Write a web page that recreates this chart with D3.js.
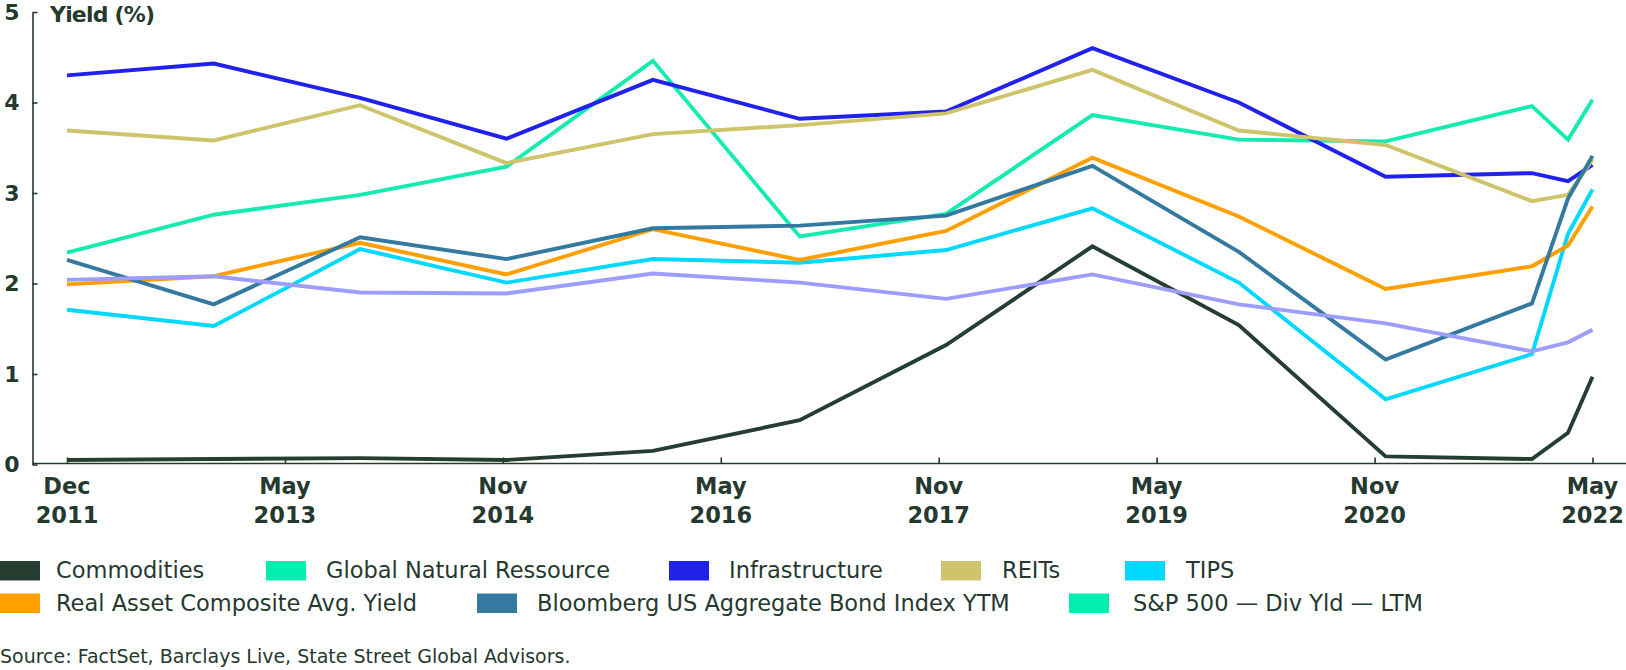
<!DOCTYPE html>
<html>
<head>
<meta charset="utf-8">
<script src="https://cdn.jsdelivr.net/npm/d3@7"></script>
<style>
  html, body { margin: 0; padding: 0; background: #ffffff; }
  svg { display: block; }
</style>
</head>
<body>
<svg id="chart" width="1626" height="670"></svg>
<script>
// ---- data ----
const dates = ["2011-12","2012-12","2013-12","2014-12","2015-12","2016-12","2017-12","2018-12","2019-12","2020-12","2021-12","2022-03","2022-05"];
const commodities = [0.05, 0.06, 0.07, 0.05, 0.15, 0.49, 1.32, 2.41, 1.54, 0.09, 0.06, 0.35, 0.97];
const globalNatRes = [2.34, 2.76, 2.98, 3.29, 4.46, 2.52, 2.77, 3.86, 3.59, 3.57, 3.96, 3.59, 4.03];
const infrastructure = [4.30, 4.43, 4.05, 3.60, 4.25, 3.82, 3.90, 4.60, 4.00, 3.18, 3.22, 3.13, 3.31];
const reits = [3.69, 3.58, 3.97, 3.33, 3.65, 3.75, 3.88, 4.36, 3.69, 3.53, 2.91, 2.98, 3.37];
const tips = [1.71, 1.53, 2.38, 2.01, 2.27, 2.23, 2.37, 2.83, 2.01, 0.72, 1.22, 2.55, 3.04];
const realAsset = [1.99, 2.08, 2.45, 2.10, 2.60, 2.26, 2.58, 3.39, 2.74, 1.94, 2.19, 2.42, 2.85];
const bloomberg = [2.26, 1.77, 2.51, 2.27, 2.61, 2.64, 2.75, 3.30, 2.35, 1.16, 1.78, 2.94, 3.41];
const sp500 = [2.04, 2.08, 1.90, 1.89, 2.11, 2.01, 1.83, 2.10, 1.77, 1.56, 1.25, 1.35, 1.49];

const seriesNames = ["Commodities","Global Natural Ressource","Infrastructure","REITs","TIPS","Real Asset Composite Avg. Yield","Bloomberg US Aggregate Bond Index YTM","S&P 500 \u2014 Div Yld \u2014 LTM"];
const seriesValues = [commodities, globalNatRes, infrastructure, reits, tips, realAsset, bloomberg, sp500];
const lineColors = ["#263d31","#14ebb0","#2121ec","#cdc46b","#00d9ff","#ffa000","#347aa0","#9d9dff"];
const legendColors = ["#263d31","#00efb0","#2121ec","#cdc46b","#00d9ff","#ffa000","#347aa0","#00efb0"];

const yTicks = [0,1,2,3,4,5];
const xTickMonths = ["Dec","May","Nov","May","Nov","May","Nov","May"];
const xTickYears = ["2011","2013","2014","2016","2017","2019","2020","2022"];
const yTitle = "Yield (%)";
const sourceText = "Source: FactSet, Barclays Live, State Street Global Advisors.";

// ---- layout ----
const ink = "#25392f";
const svg = d3.select("#chart");
const parse = d3.utcParse("%Y-%m");
const xDates = dates.map(parse);

const x = d3.scaleUtc().domain([xDates[0], xDates[xDates.length - 1]]).range([67, 1592.5]);
const y = d3.scaleLinear().domain([0, 5]).range([464.5, 12]);

const axisX0 = 32.5;

// y axis
const yAxis = svg.append("g").attr("transform", `translate(${axisX0},0)`)
  .call(d3.axisRight(y).tickValues(yTicks).tickSize(5).tickSizeOuter(0).tickFormat(""));
yAxis.select(".domain").attr("stroke", ink).attr("stroke-width", 1.6);
yAxis.selectAll(".tick line").attr("stroke", ink).attr("stroke-width", 1.6);

svg.append("g").selectAll("text").data(yTicks).join("text")
  .attr("x", 19.5).attr("y", d => y(d)).attr("dy", "0.36em")
  .attr("text-anchor", "end")
  .attr("font-family", "DejaVu Sans").attr("font-weight", "bold").attr("font-size", 22)
  .attr("fill", ink).text(d => d);

svg.append("text").attr("x", 50).attr("y", 21.5)
  .attr("font-family", "DejaVu Sans").attr("font-weight", "bold").attr("font-size", 22)
  .attr("letter-spacing", -0.8)
  .attr("fill", ink).text(yTitle);

// x axis
const t0 = +xDates[0], t1 = +xDates[xDates.length - 1];
const xTickVals = xTickMonths.map((m, i) => new Date(t0 + i * (t1 - t0) / (xTickMonths.length - 1)));
const xAxis = svg.append("g").attr("transform", `translate(0,${y(0) - 1})`)
  .call(d3.axisTop(x).tickValues(xTickVals).tickSize(6).tickSizeOuter(0).tickFormat(""));
xAxis.select(".domain").attr("d", `M${axisX0},0H1626`).attr("stroke", ink).attr("stroke-width", 1.6);
xAxis.selectAll(".tick line").attr("stroke", ink).attr("stroke-width", 1.6);

const xLab = svg.append("g").selectAll("g").data(xTickVals).join("g")
  .attr("transform", d => `translate(${x(d)},0)`);
xLab.append("text").attr("y", 494).attr("text-anchor", "middle")
  .attr("font-family", "DejaVu Sans").attr("font-weight", "bold").attr("font-size", 22.5)
  .attr("fill", ink).text((d, i) => xTickMonths[i]);
xLab.append("text").attr("y", 523).attr("text-anchor", "middle")
  .attr("font-family", "DejaVu Sans").attr("font-weight", "bold").attr("font-size", 22.5)
  .attr("fill", ink).text((d, i) => xTickYears[i]);

// lines
const line = d3.line().x((d, i) => x(xDates[i])).y(d => y(d));
svg.append("g").selectAll("path").data(seriesValues).join("path")
  .attr("d", d => line(d))
  .attr("fill", "none")
  .attr("stroke", (d, i) => lineColors[i])
  .attr("stroke-width", 3.9)
  .attr("stroke-linejoin", "miter");

// legend (two rows)
const legendItems = [
  {idx: 0, row: 0, sx: 0,    tx: 56},
  {idx: 1, row: 0, sx: 266,  tx: 326},
  {idx: 2, row: 0, sx: 669,  tx: 729},
  {idx: 3, row: 0, sx: 941,  tx: 1002},
  {idx: 4, row: 0, sx: 1125, tx: 1186},
  {idx: 5, row: 1, sx: 0,    tx: 56},
  {idx: 6, row: 1, sx: 477,  tx: 537},
  {idx: 7, row: 1, sx: 1069, tx: 1133}
];
const rowY = [561, 593.5];
const legend = svg.append("g");
legend.selectAll("rect").data(legendItems).join("rect")
  .attr("x", d => d.sx).attr("y", d => rowY[d.row]).attr("width", 40).attr("height", 19.5)
  .attr("fill", d => legendColors[d.idx]);
legend.selectAll("text").data(legendItems).join("text")
  .attr("x", d => d.tx).attr("y", d => rowY[d.row] + 17)
  .attr("font-family", "DejaVu Sans").attr("font-size", 22.5).attr("fill", ink)
  .text(d => seriesNames[d.idx]);

svg.append("text").attr("x", 0).attr("y", 662.5)
  .attr("font-family", "DejaVu Sans").attr("font-size", 19).attr("fill", ink)
  .text(sourceText);
</script>
</body>
</html>
